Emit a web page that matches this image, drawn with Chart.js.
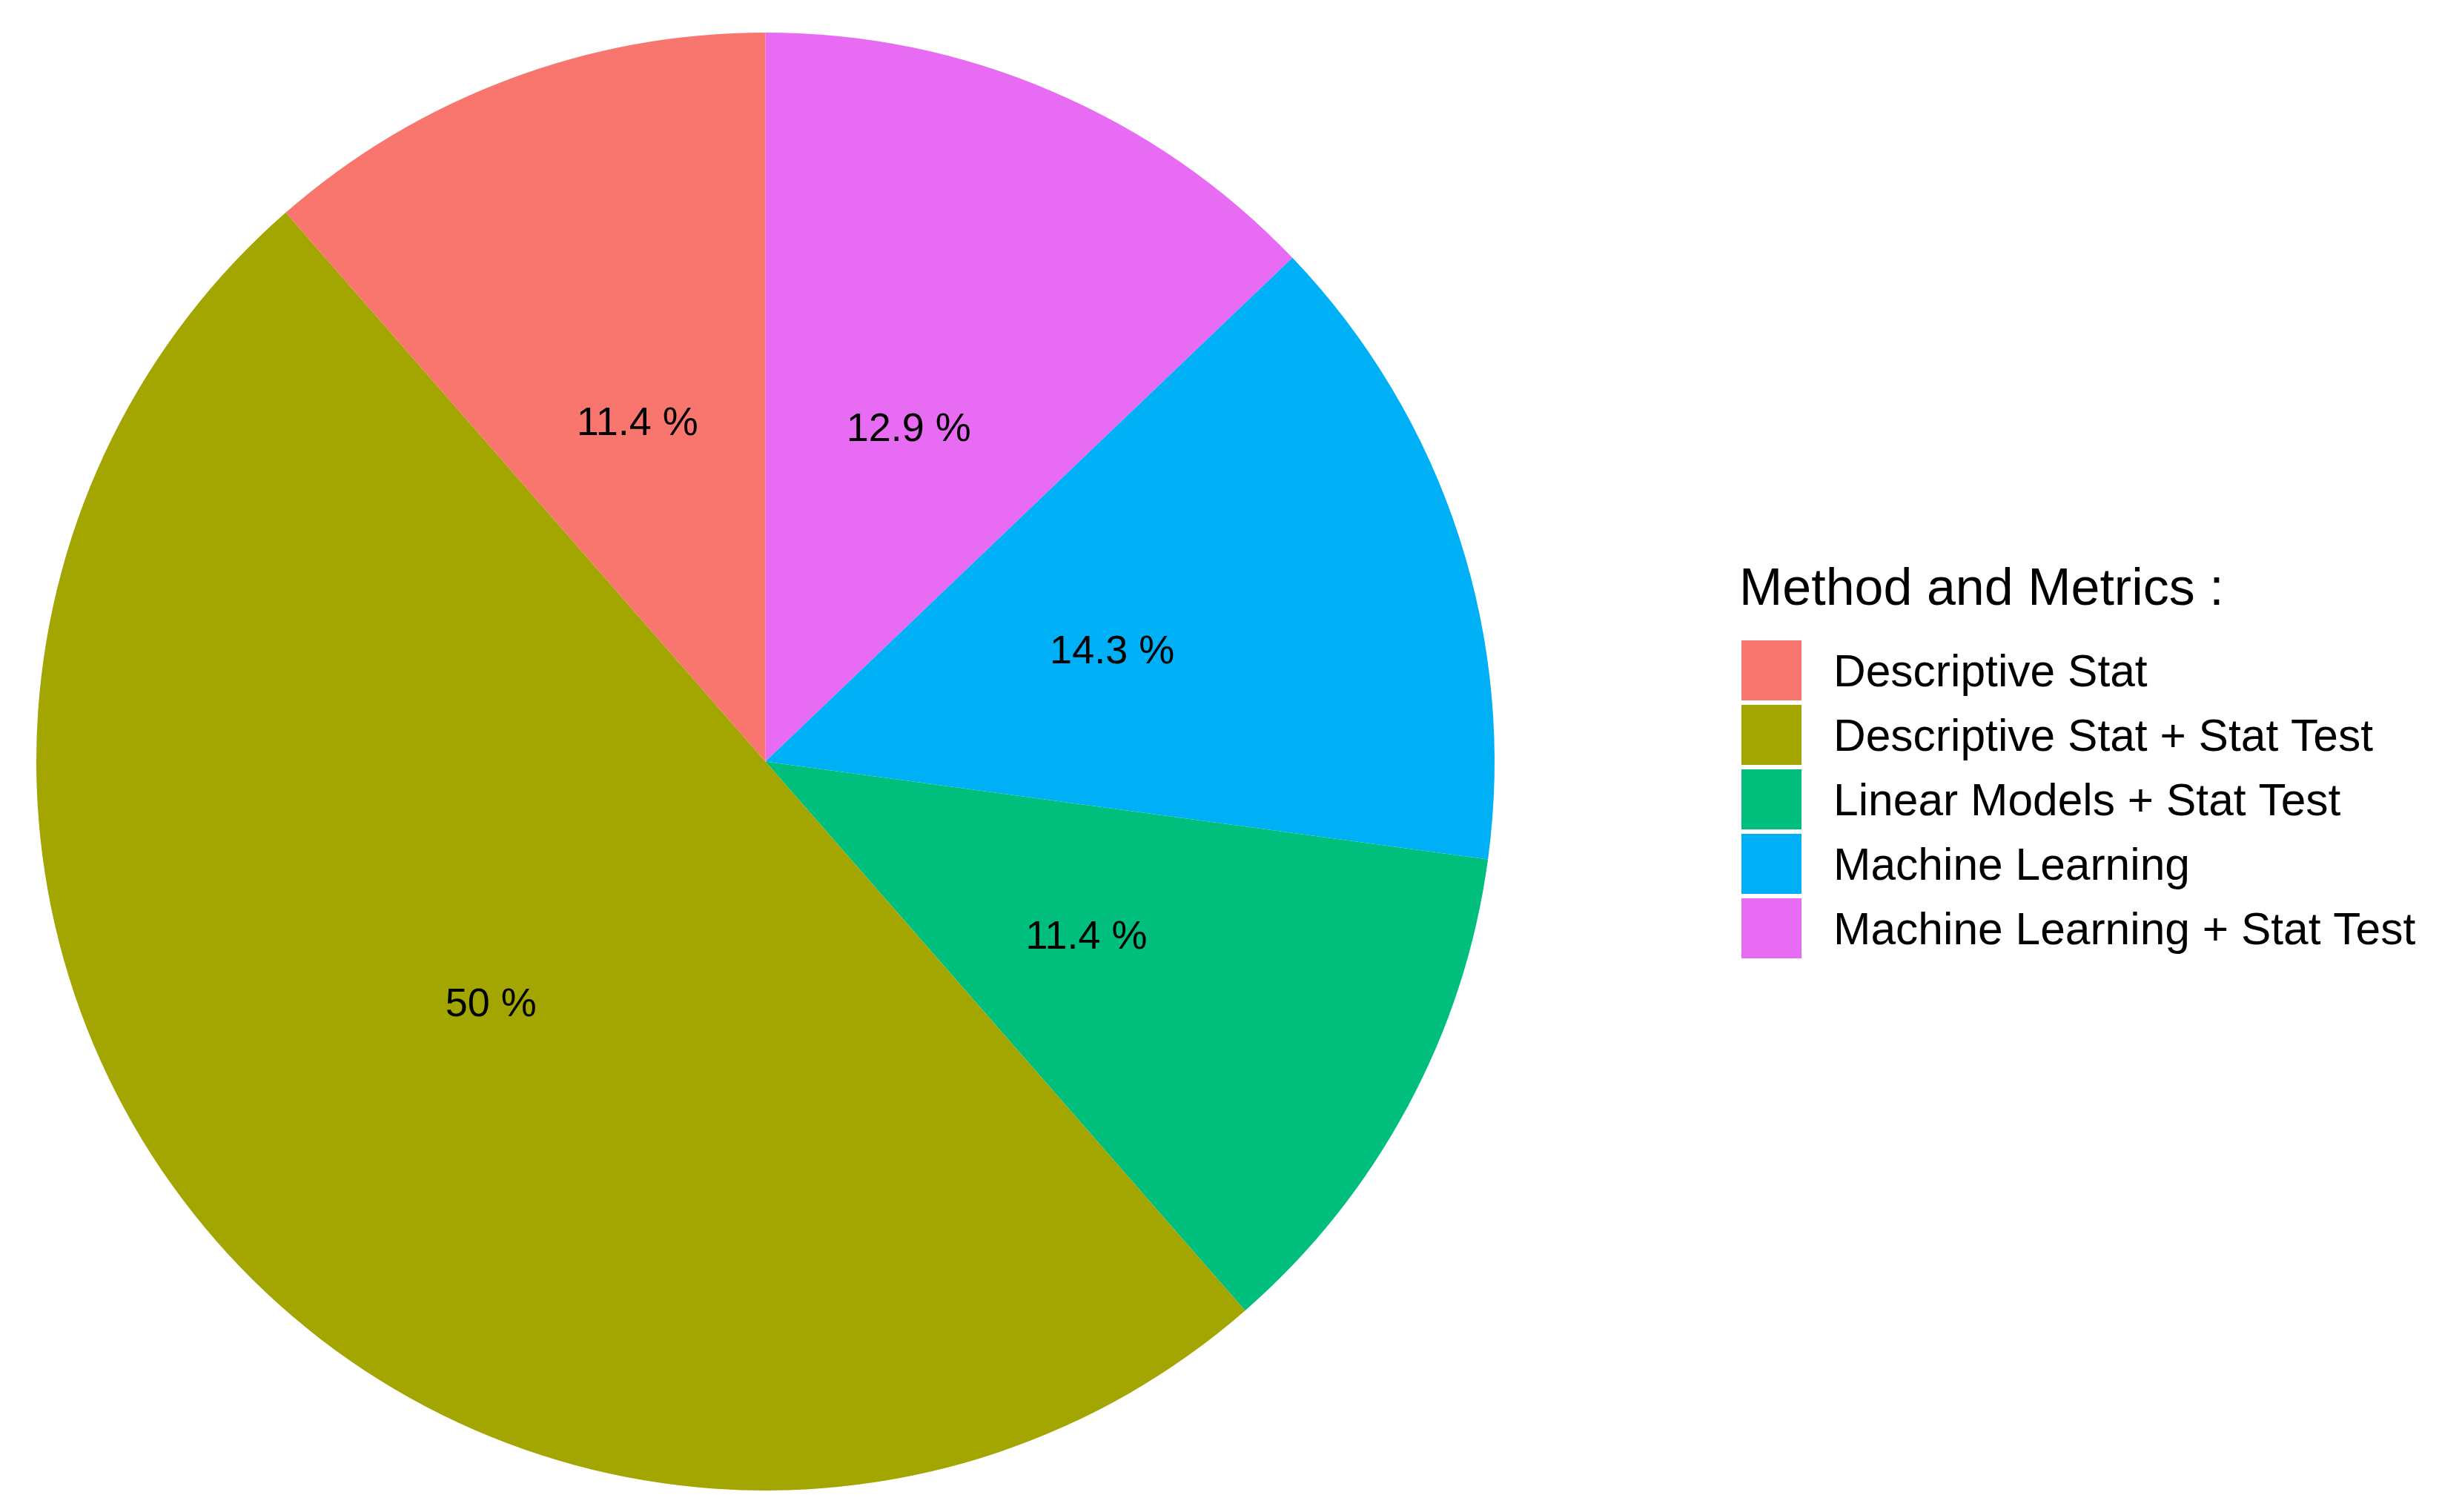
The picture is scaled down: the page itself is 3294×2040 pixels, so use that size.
<!DOCTYPE html>
<html lang="en">
<head>
  <meta charset="UTF-8">
  <title>Method and Metrics</title>
  <script src="https://cdn.jsdelivr.net/npm/chart.js"></script>
  <style>
    body { margin: 0; background: #ffffff; }
    #wrap { width: 3294px; height: 2040px; }
  </style>
</head>
<body>
  <div id="wrap">
    <canvas id="myChart" width="3294" height="2040"></canvas>
  </div>

  <script>
    // data (counts out of 70 papers)
    const categories = [
      'Descriptive Stat',
      'Descriptive Stat + Stat Test',
      'Linear Models + Stat Test',
      'Machine Learning',
      'Machine Learning + Stat Test'
    ];
    const counts = [8, 35, 8, 10, 9];
    const percentLabels = ['11.4 %', '50 %', '11.4 %', '14.3 %', '12.9 %'];
    const colors = ['#F8766D', '#A3A500', '#00BF7D', '#00B0F6', '#E76BF3'];
    const legendTitle = 'Method and Metrics :';

    // ggplot draws the pie counter-clockwise, chart.js clockwise -> reverse the order
    const order = categories.map((c, i) => i).reverse();

    const FONT = '"Liberation Sans", Arial, Helvetica, sans-serif';

    // percentage text at half the radius of each slice
    const sliceLabels = {
      id: 'sliceLabels',
      afterDatasetsDraw(chart) {
        const ctx = chart.ctx;
        const meta = chart.getDatasetMeta(0);
        ctx.save();
        ctx.font = '54px ' + FONT;
        ctx.fillStyle = '#000000';
        ctx.textAlign = 'center';
        ctx.textBaseline = 'middle';
        meta.data.forEach((arc, i) => {
          const p = arc.getProps(['x', 'y', 'startAngle', 'endAngle', 'outerRadius']);
          const mid = (p.startAngle + p.endAngle) / 2;
          const r = p.outerRadius / 2;
          // +5 so the digits (not the em box) sit on the point
          ctx.fillText(percentLabels[order[i]], p.x + r * Math.cos(mid), p.y + r * Math.sin(mid) + 5);
        });
        ctx.restore();
      }
    };

    // ggplot style legend on the right
    const sideLegend = {
      id: 'sideLegend',
      afterDraw(chart) {
        const ctx = chart.ctx;
        const left = 2349;
        ctx.save();
        ctx.fillStyle = '#000000';
        ctx.textAlign = 'left';
        ctx.textBaseline = 'alphabetic';
        ctx.font = '70px ' + FONT;
        ctx.fillText(legendTitle, left - 3, 816);

        ctx.font = '60.5px ' + FONT;
        ctx.textBaseline = 'middle';
        categories.forEach((name, i) => {
          const top = 864 + i * 87;
          ctx.fillStyle = colors[i];
          ctx.fillRect(left, top, 81, 81);
          ctx.fillStyle = '#000000';
          ctx.fillText(name, 2473, top + 45);
        });
        ctx.restore();
      }
    };

    const ctx = document.getElementById('myChart').getContext('2d');
    new Chart(ctx, {
      type: 'pie',
      data: {
        labels: order.map(i => categories[i]),
        datasets: [{
          data: order.map(i => counts[i]),
          backgroundColor: order.map(i => colors[i]),
          borderWidth: 0
        }]
      },
      options: {
        responsive: false,
        animation: false,
        layout: {
          padding: { left: 49, top: 44, right: 1278, bottom: 29 }
        },
        plugins: {
          legend: { display: false },
          tooltip: { enabled: false }
        }
      },
      plugins: [sliceLabels, sideLegend]
    });
  </script>
</body>
</html>
